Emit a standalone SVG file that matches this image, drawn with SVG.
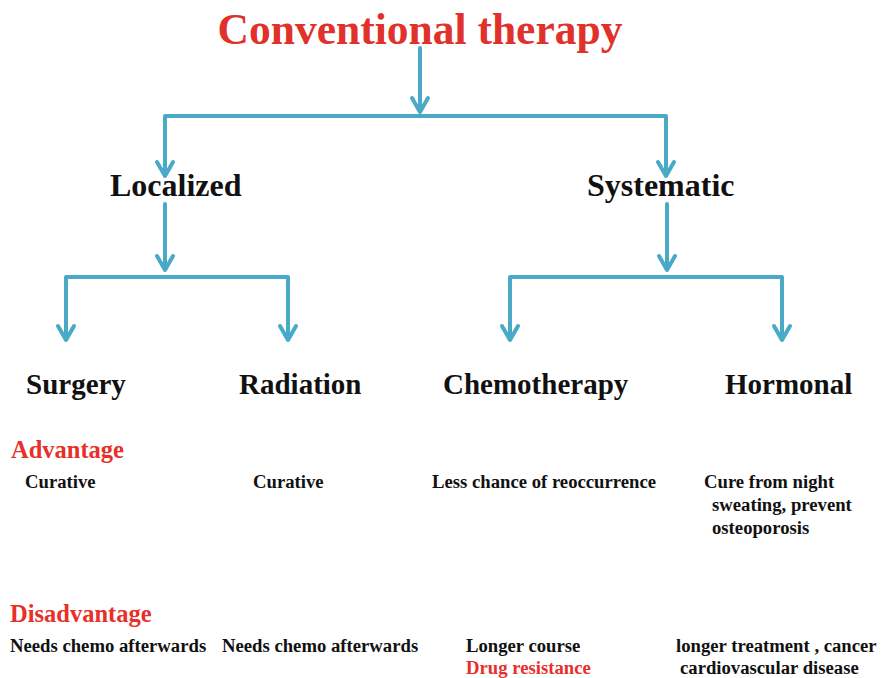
<svg xmlns="http://www.w3.org/2000/svg" width="883" height="678" viewBox="0 0 883 678">
<style>
text{font-family:"Liberation Serif","Times New Roman",serif;font-weight:bold;fill:#111}
.title{font-size:43.5px;fill:#e0312a}
.lvl1{font-size:32px}
.lvl2{font-size:29px}
.head{font-size:24.5px;fill:#e8302a}
.item{font-size:18.7px}
.red{fill:#e8302a}
.conn path{fill:none;stroke:#4aa9c6;stroke-width:4;stroke-linecap:round;stroke-linejoin:round}
</style>
<rect width="883" height="678" fill="#ffffff"/>
<g id="connectors" class="conn">
<path d="M420 48V112M412 98L420 112L428 98"/>
<path d="M165 176V116H666V176M157 162L165 176L173 162M658 162L666 176L674 162"/>
<path d="M165 204V270M157 256L165 270L173 256"/>
<path d="M66 340V277H288V340M58 326L66 340L74 326M280 326L288 340L296 326"/>
<path d="M667 204V270M659 256L667 270L675 256"/>
<path d="M510 340V277H782V340M502 326L510 340L518 326M774 326L782 340L790 326"/>
</g>
<g id="node-title"><text class="title" x="420" y="44" text-anchor="middle">Conventional therapy</text></g>
<g id="node-localized"><text class="lvl1" x="110" y="196">Localized</text></g>
<g id="node-systematic"><text class="lvl1" x="587" y="196">Systematic</text></g>
<g id="node-surgery"><text class="lvl2" x="26" y="394">Surgery</text></g>
<g id="node-radiation"><text class="lvl2" x="239" y="394">Radiation</text></g>
<g id="node-chemotherapy"><text class="lvl2" x="443" y="394">Chemotherapy</text></g>
<g id="node-hormonal"><text class="lvl2" x="725" y="394">Hormonal</text></g>
<g id="advantages">
<text class="head" x="11" y="458">Advantage</text>
<text class="item" x="25" y="488">Curative</text>
<text class="item" x="253" y="488">Curative</text>
<text class="item" x="432" y="488">Less chance of reoccurrence</text>
<text class="item" x="704" y="488">Cure from night</text>
<text class="item" x="712" y="511">sweating, prevent</text>
<text class="item" x="712" y="534">osteoporosis</text>
</g>
<g id="disadvantages">
<text class="head" x="10" y="622">Disadvantage</text>
<text class="item" x="10" y="652">Needs chemo afterwards</text>
<text class="item" x="222" y="652">Needs chemo afterwards</text>
<text class="item" x="466" y="652">Longer course</text>
<text class="item red" x="466" y="674">Drug resistance</text>
<text class="item" x="676" y="652">longer treatment , cancer</text>
<text class="item" x="680" y="674">cardiovascular disease</text>
</g>
</svg>
